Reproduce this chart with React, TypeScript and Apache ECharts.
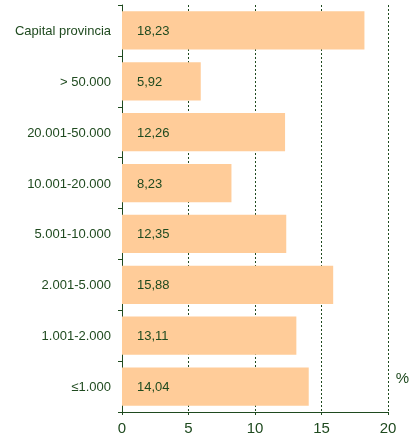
import React, { useEffect, useRef } from "react";
import * as echarts from "echarts";

const categories = [
  "Capital provincia",
  "> 50.000",
  "20.001-50.000",
  "10.001-20.000",
  "5.001-10.000",
  "2.001-5.000",
  "1.001-2.000",
  "≤1.000",
];
const values = [18.23, 5.92, 12.26, 8.23, 12.35, 15.88, 13.11, 14.04];
const xTicks = [0, 5, 10, 15, 20];
const unitLabel = "%";

const GREEN = "#1f4a1f";

export default function App() {
  const ref = useRef<HTMLDivElement>(null);
  useEffect(() => {
    if (!ref.current) return;
    const chart = echarts.init(ref.current, undefined, { renderer: "svg" });
    chart.setOption({
      animation: false,
      grid: { left: 122, right: 21, top: 5, bottom: 32, containLabel: false },
      xAxis: {
        type: "value",
        min: xTicks[0],
        max: xTicks[xTicks.length - 1],
        interval: 5,
        axisLine: { show: true, lineStyle: { color: GREEN, width: 1 } },
        axisTick: { show: true, length: 3, lineStyle: { color: GREEN } },
        axisLabel: {
          color: GREEN,
          fontSize: 15,
          fontFamily: "Liberation Sans, Arial, sans-serif",
          margin: 8,
        },
        splitLine: {
          show: true,
          lineStyle: { color: GREEN, type: [2, 2], width: 1 },
        },
      },
      yAxis: {
        type: "category",
        data: categories,
        inverse: true,
        axisLine: { show: true, lineStyle: { color: GREEN, width: 1 } },
        axisTick: { show: true, length: 4, lineStyle: { color: GREEN } },
        axisLabel: {
          color: GREEN,
          fontSize: 13,
          fontFamily: "Liberation Sans, Arial, sans-serif",
          margin: 11,
        },
        splitLine: { show: false },
      },
      series: [
        {
          type: "bar",
          data: values,
          barCategoryGap: "25%",
          itemStyle: { color: "#FFCC99" },
          label: {
            show: true,
            position: "insideLeft",
            distance: 15,
            color: GREEN,
            fontSize: 13,
            fontFamily: "Liberation Sans, Arial, sans-serif",
            formatter: (p: any) => String(p.value.toFixed(2)).replace(".", ","),
          },
        },
      ],
      graphic: [
        {
          type: "text",
          right: 0,
          top: 370,
          style: {
            text: unitLabel,
            fill: GREEN,
            fontSize: 15,
            fontFamily: "Liberation Sans, Arial, sans-serif",
          },
        },
      ],
    });
    return () => chart.dispose();
  }, []);
  return (
    <div
      ref={ref}
      style={{ position: "fixed", left: 0, top: 0, width: 409, height: 444 }}
    />
  );
}
